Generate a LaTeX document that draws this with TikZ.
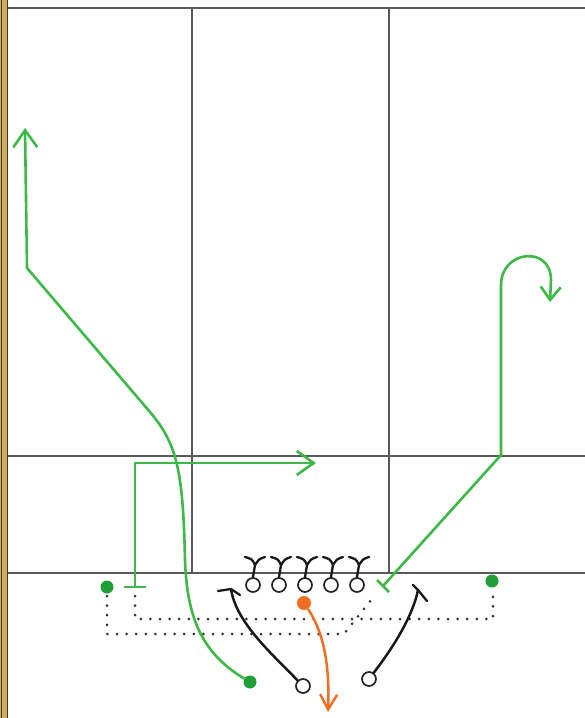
\documentclass[tikz,border=0pt]{standalone}
\usetikzlibrary{arrows.meta}
\definecolor{fieldgray}{RGB}{90,90,90}
\definecolor{routegreen}{RGB}{60,185,70}
\definecolor{dotgreen}{RGB}{30,160,55}
\definecolor{qborange}{RGB}{240,112,35}
\definecolor{borderdark}{RGB}{70,55,30}
\definecolor{bordergold}{RGB}{205,172,95}
\tikzset{
  fieldline/.style={draw=fieldgray, line width=1.5pt},
  lineman/.style={circle, draw=black!85, line width=1.7pt, fill=white, minimum size=14pt, inner sep=0pt},
  gplayer/.style={circle, fill=dotgreen, minimum size=13pt, inner sep=0pt},
  oplayer/.style={circle, fill=qborange, minimum size=14pt, inner sep=0pt},
  groute/.style={draw=routegreen, line width=2.6pt, line join=round},
  broute/.style={draw=black!90, line width=2.5pt, line cap=round, line join=round},
  oroute/.style={draw=qborange, line width=2.5pt},
  blockcap/.style={draw=black!90, line width=2.3pt, line cap=round},
  motion/.style={draw=black!80, line width=3pt, line cap=round, dash pattern=on 0pt off 9.6pt},
  gbarb/.style={-{Straight Barb[length=17pt,width=24pt,line width=2.6pt]}},
  obarb/.style={-{Straight Barb[length=15pt,width=17pt,line width=2.5pt]}},
  cbarb/.style={-{Straight Barb[length=13pt,width=20pt,line width=2.6pt]}}
}
\begin{document}
\begin{tikzpicture}[x=1pt,y=-1pt]
\useasboundingbox (0,0) rectangle (585,718);
\fill[white] (0,0) rectangle (585,718);
% left border strip
\fill[bordergold] (0,0) rectangle (7.5,718);
\draw[borderdark, line width=1.2pt] (1.2,0) -- (1.2,718);
\draw[borderdark, line width=1.2pt] (7.2,0) -- (7.2,718);
% field lines
\draw[fieldline] (8,8) -- (585,8);
\draw[fieldline] (8,456) -- (585,456);
\draw[fieldline] (8,573) -- (585,573);
\draw[fieldline] (192,8) -- (192,573);
\draw[fieldline] (389,8) -- (389,573);

% motion (dotted) lines
\coordinate (mA1) at (135,596);
\coordinate (mA2) at (135,619);
\coordinate (mA3) at (493,619);
\coordinate (mA4) at (493,594);
\coordinate (mB1) at (107,596);
\coordinate (mB2) at (107,634);
\coordinate (mB3) at (344,634);
\coordinate (mB4) at (375,595);
\draw[motion] (mA1) -- (mA2) -- (mA3) -- (mA4);
\draw[motion] (mB1) -- (mB2) -- (mB3) -- (mB4);

% players
\node[gplayer] (WL) at (107,587) {};
\node[gplayer] (WR) at (492,581) {};
\node[gplayer] (SL) at (250,682) {};
\coordinate (TE) at (135,587);
\coordinate (TR) at (383,586);

% long green route (left)
\coordinate (g1) at (185,560);
\coordinate (g2) at (150,412);
\coordinate (g3) at (27,268);
\coordinate (g4) at (25,128);
\draw[groute, gbarb] (SL) .. controls (200,652) and (187,615) .. (g1)
  .. controls (183,470) and (177,444) .. (g2) -- (g3) -- (g4);

% out route from TE
\coordinate (h1) at (135,463);
\coordinate (h2) at (316,463);
\draw[groute] (124,587) -- (146,587);
\draw[groute, gbarb] (TE) -- (h1) -- (h2);

% right green route with curl
\coordinate (r1) at (501,455);
\coordinate (r2) at (501,285);
\coordinate (r3) at (551,280);
\coordinate (r4) at (550,302);
\draw[groute] (377,580) -- (389,592);
\draw[groute, cbarb] (TR) -- (r1) -- (r2) .. controls (501,250) and (551,245) .. (r3) -- (r4);

% offensive line
\foreach \i/\x in {1/253,2/279,3/305,4/331,5/357}{
  \node[lineman] (OL\i) at (\x,585) {};
  \draw[blockcap] (OL\i.north) -- (\x+2,565);
  \draw[blockcap] (\x+2,565) .. controls (\x-1,559) .. (\x-8,557);
  \draw[blockcap] (\x+2,565) .. controls (\x+6,559) .. (\x+12,557);
}

% quarterback / running back (orange)
\node[oplayer] (QB) at (304,603) {};
\coordinate (qend) at (328,712);
\draw[oroute, obarb] (QB) .. controls (322,630) and (330,660) .. (qend);

% backs with block routes
\node[lineman] (BL) at (303,686) {};
\node[lineman] (BR) at (369,679) {};
\coordinate (bl) at (231,589);
\coordinate (br) at (418,590);
\draw[broute] (BL) .. controls (270,652) and (236,622) .. (bl);
\draw[blockcap] (bl) -- (218,591);
\draw[blockcap] (bl) -- (240,595);
\draw[broute] (BR) .. controls (395,645) and (413,615) .. (br);
\draw[blockcap] (br) -- (413,585);
\draw[blockcap] (br) -- (427,601);
\end{tikzpicture}
\end{document}
